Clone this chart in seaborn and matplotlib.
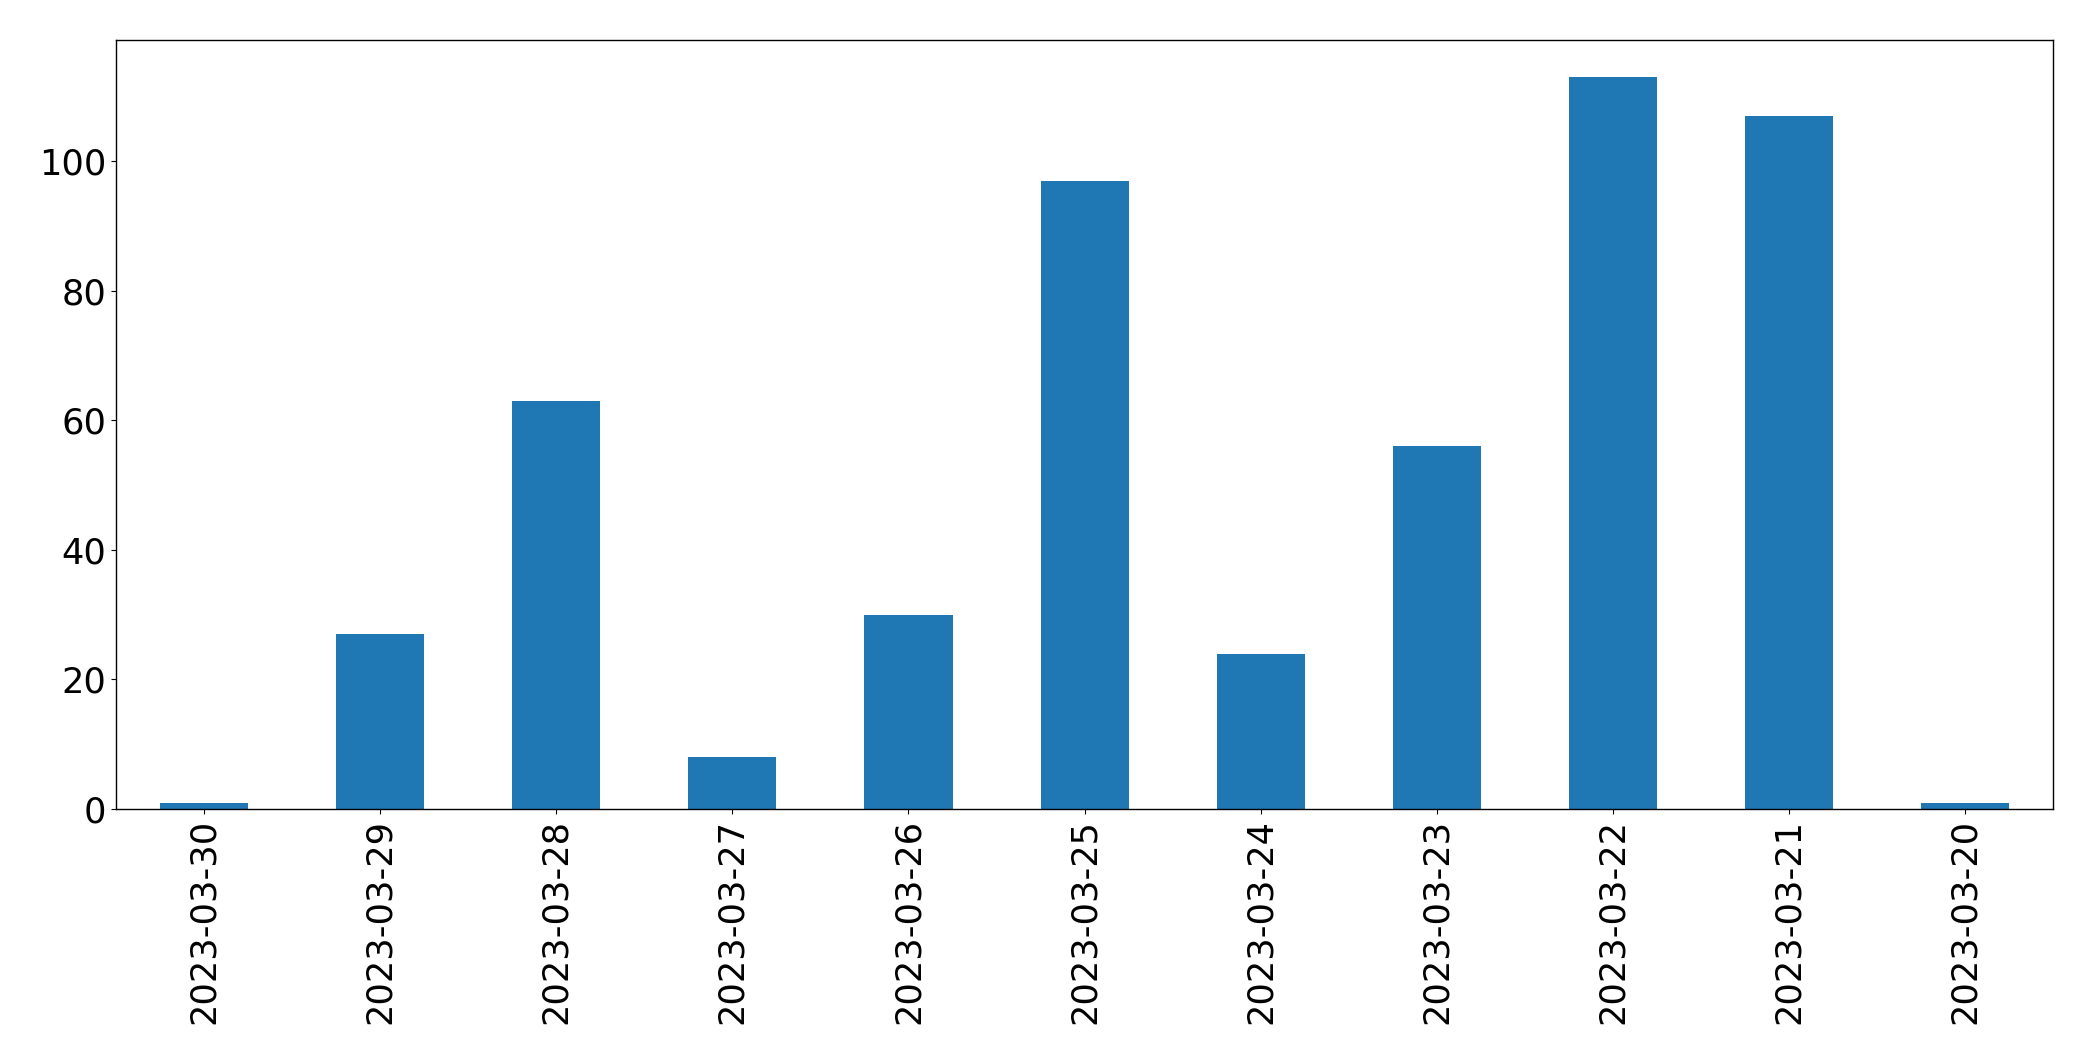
import numpy as np
import pandas as pd
import matplotlib
matplotlib.use('Agg')
import matplotlib.pyplot as plt
import seaborn as sns

# dữ liệu
dates = ['2023-03-30', '2023-03-29', '2023-03-28', '2023-03-27', '2023-03-26',
         '2023-03-25', '2023-03-24', '2023-03-23', '2023-03-22', '2023-03-21',
         '2023-03-20']
counts = [1, 27, 63, 8, 30, 97, 24, 56, 113, 107, 1]

df = pd.DataFrame({'date': dates, 'count': counts})

plt.rcParams['font.family'] = ['DejaVu Sans']
fig = plt.figure(figsize=(20.93, 10.61), dpi=100)
ax = fig.add_axes([0.0554, 0.2375, 0.9256, 0.7245])

sns.barplot(data=df, x='date', y='count', color='#1f77b4', saturation=1,
            width=0.5, order=dates, ax=ax, linewidth=0)

ax.set_xlim(-0.5, len(dates) - 0.5)
ax.set_ylim(0, max(counts) * 1.05)
ax.set_xlabel('')
ax.set_ylabel('')
for s in ax.spines.values():
    s.set_color('black')
    s.set_linewidth(1)
ax.tick_params(axis='both', labelsize=25.3, colors='black')
ax.tick_params(axis='x', rotation=90)

fig.savefig('out.png', dpi=100)
